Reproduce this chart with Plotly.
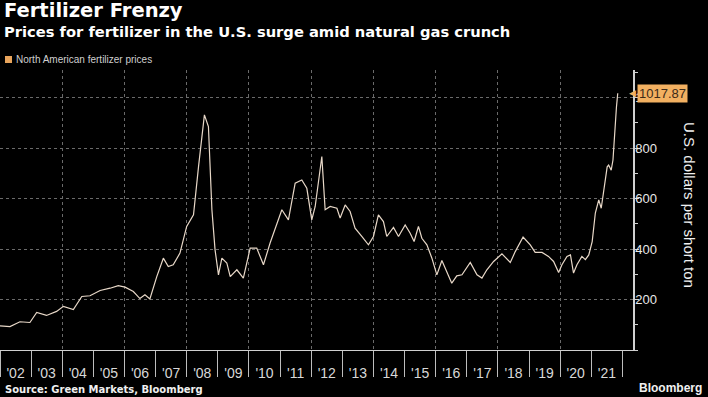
import plotly.graph_objects as go

dates = [
    "2002-01-01", "2002-04-28", "2002-08-23", "2002-12-18", "2003-03-08", "2003-07-01",
    "2003-10-27", "2004-01-15", "2004-05-11", "2004-08-18", "2004-11-22", "2005-03-21",
    "2005-07-16", "2005-10-20", "2006-01-08", "2006-04-15", "2006-07-01", "2006-08-29",
    "2006-10-26", "2007-01-15", "2007-04-02", "2007-05-30", "2007-07-27", "2007-10-14",
    "2008-01-01", "2008-03-21", "2008-05-19", "2008-06-28", "2008-07-27", "2008-09-12",
    "2008-10-23", "2008-11-29", "2009-01-08", "2009-02-17", "2009-04-16", "2009-05-26",
    "2009-08-12", "2009-10-27", "2010-01-15", "2010-04-02", "2010-06-20", "2010-09-06",
    "2010-11-24", "2011-01-22", "2011-04-09", "2011-06-27", "2011-09-13", "2011-11-11",
    "2012-01-08", "2012-02-17", "2012-05-05", "2012-06-13", "2012-08-11", "2012-10-29",
    "2012-12-06", "2013-02-03", "2013-04-02", "2013-05-30", "2013-08-17", "2013-11-03",
    "2014-01-01", "2014-02-28", "2014-04-28", "2014-06-06", "2014-08-24", "2014-10-22",
    "2015-01-08", "2015-03-08", "2015-04-23", "2015-06-13", "2015-07-23", "2015-09-20",
    "2015-11-18", "2016-01-15", "2016-03-14", "2016-05-11", "2016-07-08", "2016-09-05",
    "2016-11-05", "2017-02-10", "2017-04-30", "2017-06-27", "2017-08-24", "2017-11-11",
    "2018-02-17", "2018-05-26", "2018-07-23", "2018-10-23", "2019-01-15", "2019-03-14",
    "2019-06-02", "2019-08-17", "2019-10-16", "2019-12-14", "2020-01-22", "2020-03-21",
    "2020-05-01", "2020-06-06", "2020-07-16", "2020-09-12", "2020-10-23", "2020-12-02",
    "2021-01-11", "2021-02-17", "2021-03-29", "2021-04-27", "2021-05-27", "2021-06-14",
    "2021-07-06", "2021-07-23", "2021-08-22", "2021-09-12", "2021-09-28", "2021-10-23",
    "2021-11-07",
]
prices = [
    96, 93, 112, 109, 149, 137,
    153, 173, 160, 212, 215, 236,
    245, 255, 249, 232, 204, 219,
    202, 291, 364, 331, 338, 384,
    490, 536, 727, 846, 932, 886,
    556, 397, 298, 364, 345, 291,
    318, 285, 404, 404, 338, 424,
    503, 556, 516, 661, 674, 641,
    516, 569, 767, 556, 569, 562,
    523, 575, 549, 483, 450, 417,
    450, 536, 509, 450, 486, 450,
    496, 463, 430, 490, 443, 417,
    364, 298, 355, 311, 265, 294,
    298, 347, 298, 285, 318, 351,
    381, 347, 390, 448, 417, 387,
    387, 371, 351, 307, 338, 371,
    377, 305, 338, 371, 358, 377,
    430, 543, 595, 562, 635, 686,
    726, 733, 713, 753, 845, 964,
    1017.87,
]

series_name = "North American fertilizer prices"
y_ticks = [200, 400, 600, 800, 1000]
grid_dates = ["2004-01-01", "2006-01-01", "2008-01-01", "2010-01-01", "2012-01-01",
              "2014-01-01", "2016-01-01", "2018-01-01", "2020-01-01"]
x_range = ["2002-01-01", "2022-05-05"]
y_range = [0, 1110]

FONT = "Liberation Sans"
BOLD = "DejaVu Sans"
W, H = 708, 397
ML, MR, MT, MB = 0, 75, 70, 47
PH = H - MT - MB
PW = W - ML - MR
LABEL_ORANGE = "#f2b061"


def py(pix):
    return (H - MB - pix) / PH


def px(pix):
    return (pix - ML) / PW


fig = go.Figure()
fig.add_trace(go.Scatter(
    x=dates, y=prices, mode="lines", name=series_name,
    line=dict(color="#e8d8c8", width=1.2), hoverinfo="x+y",
))
fig.add_trace(go.Scatter(
    x=dates, y=prices, mode="lines", xaxis="x2", opacity=0,
    showlegend=False, hoverinfo="skip", line=dict(width=0),
))

fig.update_layout(
    width=W, height=H,
    margin=dict(l=ML, r=MR, t=MT, b=MB, autoexpand=False),
    paper_bgcolor="#000000", plot_bgcolor="#000000",
    showlegend=False,
    font=dict(family=FONT, color="#e0e0e0"),
    xaxis=dict(
        type="date", range=x_range, dtick="M12", tick0="2002-01-01",
        ticklabelmode="period", tickformat="'%y",
        ticks="outside", ticklen=26, tickwidth=1, tickcolor="#bdbdbd",
        ticklabelstandoff=-16,
        showline=True, linecolor="#d0d0d0", linewidth=1,
        showgrid=False, zeroline=False,
        tickfont=dict(size=14, color="#d8d8d8", family=FONT),
    ),
    xaxis2=dict(
        type="date", overlaying="x", matches="x", range=x_range,
        tickvals=grid_dates, showticklabels=False, ticks="",
        showgrid=True, gridcolor="#6a6a6a", griddash="dot", gridwidth=1,
        showline=False, zeroline=False,
    ),
    yaxis=dict(
        side="right", range=y_range, tickvals=y_ticks,
        ticks="outside", ticklen=4, tickcolor="#d0d0d0",
        ticklabelstandoff=-6,
        showline=True, linecolor="#d0d0d0", linewidth=1.5,
        showgrid=True, gridcolor="#6a6a6a", griddash="dot", gridwidth=1,
        zeroline=False,
        minor=dict(dtick=100, tick0=0, ticks="outside", ticklen=3,
                   tickcolor="#d0d0d0", showgrid=False),
        tickfont=dict(size=13, color="#e8e8e8", family=FONT),
    ),
)

annotations = [
    dict(text="<b>Fertilizer Frenzy</b>", x=px(2), y=py(10.5), xref="paper", yref="paper",
         xanchor="left", yanchor="middle", showarrow=False,
         font=dict(size=19.5, color="#ffffff", family=BOLD)),
    dict(text="<b>Prices for fertilizer in the U.S. surge amid natural gas crunch</b>",
         x=px(2), y=py(31), xref="paper", yref="paper",
         xanchor="left", yanchor="middle", showarrow=False,
         font=dict(size=14.7, color="#ffffff", family=BOLD)),
    dict(text=series_name, x=px(14), y=py(59.5), xref="paper", yref="paper",
         xanchor="left", yanchor="middle", showarrow=False,
         font=dict(size=10, color="#cfcfcf", family=FONT)),
    dict(text="<b>Source: Green Markets, Bloomberg</b>", x=px(3), y=py(389.5),
         xref="paper", yref="paper", xanchor="left", yanchor="middle", showarrow=False,
         font=dict(size=10, color="#f0f0f0", family=BOLD)),
    dict(text="<b>Bloomberg</b>", x=px(704), y=py(388), xref="paper", yref="paper",
         xanchor="right", yanchor="middle", showarrow=False,
         font=dict(size=12, color="#f0f0f0", family=FONT)),
    dict(text="U.S. dollars per short ton", x=1, xshift=57, y=py(205), xref="paper",
         yref="paper", xanchor="center", yanchor="middle", textangle=90, showarrow=False,
         font=dict(size=15, color="#f0f0f0", family=FONT)),
    dict(text="◀", x=1, xshift=5, y=prices[-1], xref="paper", yref="y",
         xanchor="right", yanchor="middle", showarrow=False,
         font=dict(size=9, color=LABEL_ORANGE, family="DejaVu Sans")),
    dict(text=f"{prices[-1]:.2f}", x=1, xshift=4, y=prices[-1], xref="paper", yref="y",
         xanchor="left", yanchor="middle", showarrow=False, bgcolor=LABEL_ORANGE,
         borderpad=1, font=dict(size=13, color="#3b2a18", family=FONT)),
]
fig.update_layout(annotations=annotations)

fig.add_shape(type="rect", xref="paper", yref="paper",
              x0=px(5), x1=px(12), y0=py(63), y1=py(56),
              fillcolor="#e8a45c", line=dict(width=0))

fig.write_html("out.html", config={"displayModeBar": False},
               post_script="document.body.style.margin='0';")
